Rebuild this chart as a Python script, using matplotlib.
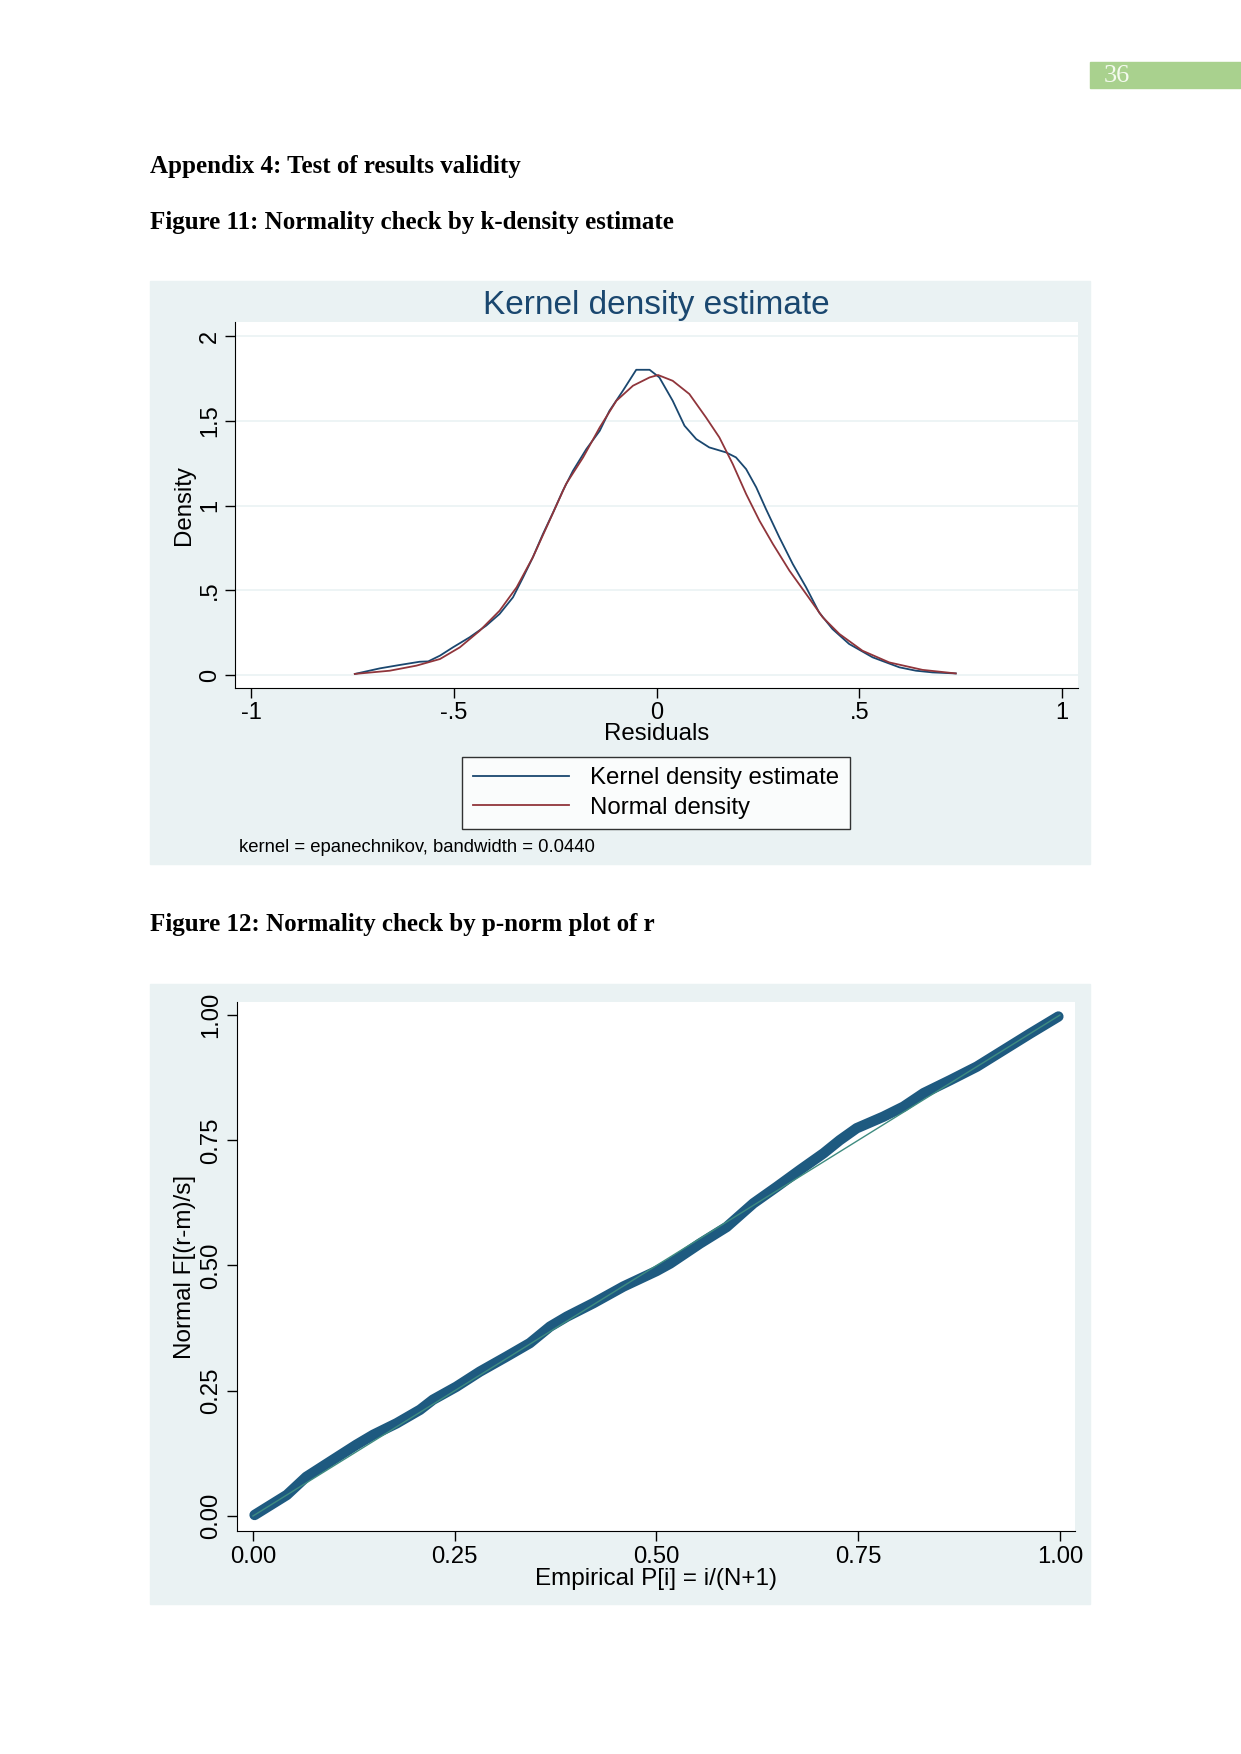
import matplotlib.pyplot as plt
from matplotlib.patches import Rectangle

# kernel density estimate of residuals
kde_x = [-0.744, -0.682, -0.633, -0.584, -0.563, -0.534, -0.502, -0.461, -0.420, -0.387,
         -0.354, -0.329, -0.305, -0.280, -0.255, -0.231, -0.206, -0.173, -0.140, -0.116,
         -0.083, -0.050, -0.017, 0.007, 0.040, 0.069, 0.098, 0.130, 0.172, 0.196,
         0.221, 0.246, 0.270, 0.303, 0.336, 0.369, 0.401, 0.434, 0.475, 0.533,
         0.599, 0.640, 0.681, 0.738]
kde_y = [0.006, 0.039, 0.059, 0.078, 0.080, 0.114, 0.163, 0.222, 0.291, 0.360,
         0.458, 0.576, 0.694, 0.832, 0.959, 1.087, 1.205, 1.333, 1.441, 1.559,
         1.677, 1.801, 1.801, 1.756, 1.618, 1.471, 1.392, 1.343, 1.313, 1.284,
         1.215, 1.107, 0.979, 0.812, 0.655, 0.517, 0.369, 0.271, 0.183, 0.104,
         0.045, 0.025, 0.015, 0.009]

# normal density curve
norm_x = [-0.744, -0.658, -0.592, -0.534, -0.485, -0.436, -0.387, -0.345, -0.305, -0.264,
          -0.223, -0.181, -0.140, -0.099, -0.058, -0.017, 0.004, 0.040, 0.081, 0.122,
          0.155, 0.188, 0.221, 0.254, 0.287, 0.328, 0.369, 0.410, 0.451, 0.508,
          0.574, 0.656, 0.738]
norm_y = [0.006, 0.025, 0.055, 0.094, 0.163, 0.261, 0.379, 0.517, 0.694, 0.910,
          1.127, 1.284, 1.461, 1.618, 1.707, 1.756, 1.770, 1.736, 1.658, 1.520,
          1.402, 1.245, 1.068, 0.910, 0.773, 0.615, 0.478, 0.340, 0.242, 0.143,
          0.074, 0.030, 0.009]

# p-norm plot points
pp_x = [0.002, 0.025, 0.042, 0.066, 0.095, 0.128, 0.149, 0.178, 0.207, 0.223,
        0.252, 0.281, 0.314, 0.343, 0.368, 0.389, 0.422, 0.459, 0.500, 0.517,
        0.554, 0.587, 0.620, 0.649, 0.678, 0.707, 0.727, 0.748, 0.781, 0.806,
        0.831, 0.864, 0.897, 0.930, 0.963, 0.998]
pp_y = [0.002, 0.025, 0.042, 0.078, 0.108, 0.142, 0.162, 0.185, 0.212, 0.232,
        0.258, 0.288, 0.318, 0.345, 0.378, 0.398, 0.425, 0.458, 0.489, 0.504,
        0.544, 0.577, 0.624, 0.657, 0.691, 0.724, 0.750, 0.774, 0.797, 0.817,
        0.844, 0.870, 0.897, 0.930, 0.963, 0.997]

W, H = 1241, 1754
BG = '#EAF2F3'
NAVY = '#1A476F'
MAROON = '#90353B'

plt.rcParams['font.family'] = ['Liberation Sans', 'DejaVu Sans']
fig = plt.figure(figsize=(W / 100, H / 100), dpi=100)


def box(x0, y0, x1, y1):
    # pixel box -> figure fraction [left, bottom, width, height]
    return [x0 / W, 1 - y1 / H, (x1 - x0) / W, (y1 - y0) / H]


def ftext(x, y, s, **kw):
    fig.text(x / W, 1 - y / H, s, **kw)


# page number tab
fig.patches.append(Rectangle((1090 / W, 1 - 88 / H), 151 / W, 26 / H,
                             transform=fig.transFigure, color='#A9D18E', zorder=-5))
ftext(1104, 76, '36', family='Liberation Serif', fontsize=19, color='#F4FAEE', va='center')

serif = dict(family='Liberation Serif', fontweight='bold', fontsize=18, va='center')
ftext(150, 166, 'Appendix 4: Test of results validity', **serif)
ftext(150, 223, 'Figure 11: Normality check by k-density estimate', **serif)
ftext(150, 925, 'Figure 12: Normality check by p-norm plot of r', **serif)

# chart backgrounds
for y0, y1 in [(281, 864), (984, 1604)]:
    fig.patches.append(Rectangle((150 / W, 1 - y1 / H), 940 / W, (y1 - y0) / H,
                                 transform=fig.transFigure, color=BG, zorder=-5))

# ---- Kernel density chart ----
ax1 = fig.add_axes(box(235, 322, 1078, 688))
ax1.plot(kde_x, kde_y, color=NAVY, lw=1.3, label='Kernel density estimate')
ax1.plot(norm_x, norm_y, color=MAROON, lw=1.3, label='Normal density')
ax1.set_xlim(-1.0395, 1.0395)
ax1.set_ylim(-0.077, 2.083)
ax1.set_xticks([-1, -0.5, 0, 0.5, 1])
ax1.set_xticklabels(['-1', '-.5', '0', '.5', '1'])
ax1.set_yticks([0, 0.5, 1, 1.5, 2])
ax1.set_yticklabels(['0', '.5', '1', '1.5', '2'], rotation=90, va='center')
ax1.grid(axis='y', color=BG, lw=1.2)
ax1.set_axisbelow(True)
for s in ['top', 'right']:
    ax1.spines[s].set_visible(False)
ax1.tick_params(labelsize=17, length=7, width=1, pad=3)
ax1.set_xlabel('Residuals', fontsize=17.3, labelpad=-1)
ax1.set_ylabel('Density', fontsize=17.3, labelpad=3)
ax1.set_title('Kernel density estimate', fontsize=24, color=NAVY, pad=6)
ax1.legend(loc='center', bbox_to_anchor=(656 / W, 1 - 793 / H), bbox_transform=fig.transFigure,
           fontsize=17.3, frameon=True, fancybox=False, edgecolor='black',
           handlelength=4.0, borderpad=0.45, labelspacing=0.3, handletextpad=0.9)
ftext(239, 847, 'kernel = epanechnikov, bandwidth = 0.0440', fontsize=13.3, va='center')

# ---- p-norm chart ----
ax2 = fig.add_axes(box(237, 1002, 1075, 1531))
ax2.plot(pp_x, pp_y, color='#1E5A80', lw=7.5, solid_capstyle='round', solid_joinstyle='round')
ax2.plot([0, 1], [0, 1], color='#3F8C80', lw=1)
ax2.set_xlim(-0.0198, 1.0186)
ax2.set_ylim(-0.030, 1.026)
ticks = [0, 0.25, 0.5, 0.75, 1]
labels = ['0.00', '0.25', '0.50', '0.75', '1.00']
ax2.set_xticks(ticks)
ax2.set_xticklabels(labels)
ax2.set_yticks(ticks)
ax2.set_yticklabels(labels, rotation=90, va='center')
for s in ['top', 'right']:
    ax2.spines[s].set_visible(False)
ax2.tick_params(labelsize=17.2, length=7, width=1, pad=4)
ax2.set_xlabel('Empirical P[i] = i/(N+1)', fontsize=17.5, labelpad=0)
ax2.set_ylabel('Normal F[(r-m)/s]', fontsize=17.5, labelpad=3)

fig.savefig('out.png', dpi=100)
